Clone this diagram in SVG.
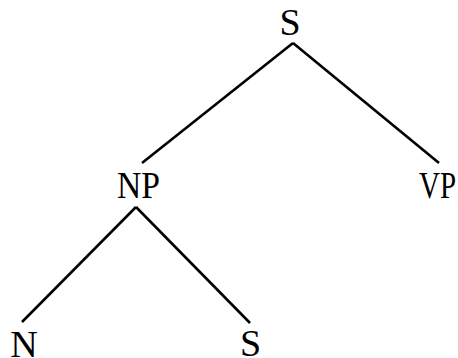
<svg xmlns="http://www.w3.org/2000/svg" width="458" height="358" viewBox="0 0 458 358">
<style>
text{font-family:"Liberation Serif","Times New Roman",serif;font-size:38px;fill:#000;text-anchor:middle}
line{stroke:#000;stroke-width:2.6;stroke-linecap:butt}
</style>
<rect width="458" height="358" fill="#fff"/>
<g id="connectors">
<line x1="293" y1="43" x2="142" y2="163"/>
<line x1="293" y1="43" x2="439" y2="163"/>
<line x1="136" y1="207" x2="22" y2="322"/>
<line x1="136" y1="207" x2="250" y2="323"/>
</g>
<g id="node-S-top"><text x="290" y="35">S</text></g>
<g id="node-NP"><text x="138.5" y="198" textLength="43" lengthAdjust="spacingAndGlyphs">NP</text></g>
<g id="node-VP"><text x="437.5" y="198" textLength="37" lengthAdjust="spacingAndGlyphs">VP</text></g>
<g id="node-N"><text x="24" y="357">N</text></g>
<g id="node-S-bottom"><text x="250.5" y="356">S</text></g>
</svg>
